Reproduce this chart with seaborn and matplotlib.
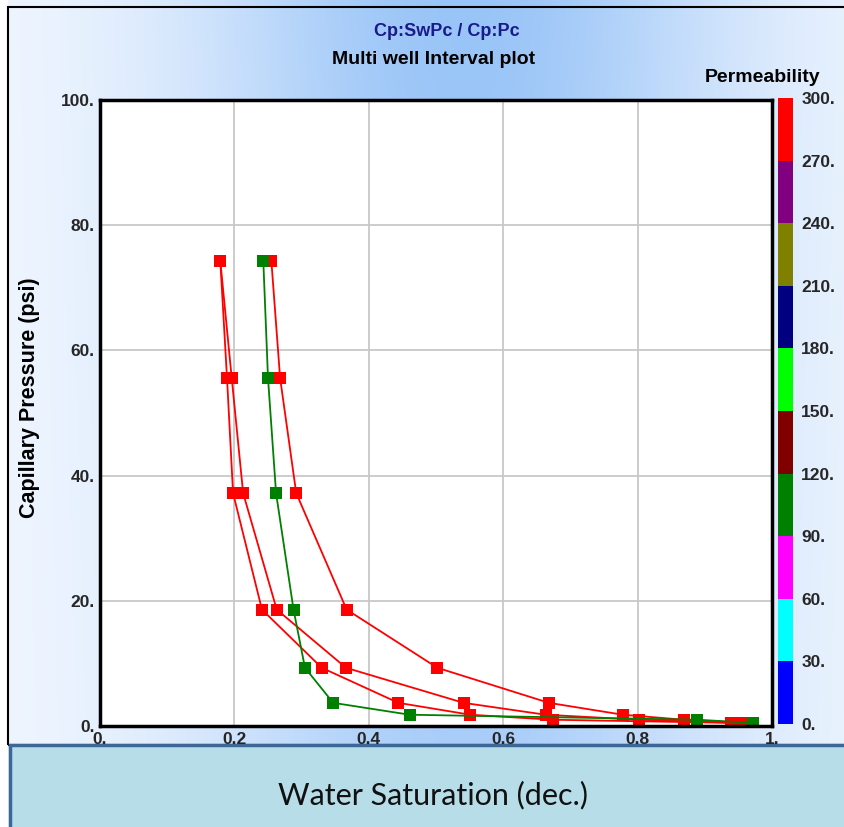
import numpy as np
import pandas as pd
import matplotlib
matplotlib.use("Agg")
import matplotlib.pyplot as plt
from matplotlib.colors import ListedColormap, BoundaryNorm
from matplotlib.patches import Rectangle
import seaborn as sns

# ---------------- data ----------------
pc_levels = [74.3, 55.6, 37.2, 18.6, 9.3, 3.7, 1.8, 1.0, 0.5]
sw_curve_a = [0.179, 0.189, 0.198, 0.241, 0.330, 0.444, 0.551, 0.674, 0.939]
sw_curve_b = [0.179, 0.196, 0.213, 0.263, 0.366, 0.541, 0.663, 0.802, 0.950]
sw_curve_c = [0.255, 0.268, 0.292, 0.367, 0.502, 0.668, 0.778, 0.869, 0.960]
sw_curve_g = [0.243, 0.250, 0.262, 0.288, 0.305, 0.347, 0.461, 0.889, 0.972]
curve_names = ["A", "B", "C", "G"]
curve_perm = [290, 285, 295, 100]

cbar_bounds = [0, 30, 60, 90, 120, 150, 180, 210, 240, 270, 300]
cbar_colors = ["#0000ff", "#00ffff", "#ff00ff", "#008000", "#800000",
               "#00ff00", "#000080", "#808000", "#800080", "#ff0000"]
x_ticks = [0, 0.2, 0.4, 0.6, 0.8, 1.0]
x_ticklabels = ["0.", "0.2", "0.4", "0.6", "0.8", "1."]
y_ticks = [0, 20, 40, 60, 80, 100]
y_ticklabels = ["0.", "20.", "40.", "60.", "80.", "100."]

rows = []
for name, sw, k in zip(curve_names, [sw_curve_a, sw_curve_b, sw_curve_c, sw_curve_g], curve_perm):
    for s, p in zip(sw, pc_levels):
        rows.append({"curve": name, "Sw": s, "Pc": p, "perm": k})
df = pd.DataFrame(rows)

cmap = ListedColormap(cbar_colors)
norm = BoundaryNorm(cbar_bounds, cmap.N)

sns.set_style("white")
plt.rcParams["font.family"] = ["Liberation Sans", "DejaVu Sans"]
bold = dict(fontweight="bold")

W, H = 845, 827
fig = plt.figure(figsize=(W / 100, H / 100), dpi=100)

# background gradient
bg = fig.add_axes([0, 0, 1, 1], zorder=-10)
xx = np.linspace(0, 1, 400)
yy = np.linspace(0, 1, 200)
X, Y = np.meshgrid(xx, yy)
t = np.exp(-((X - 0.55) / 0.32) ** 2) * (0.8 + 0.2 * Y)
white = np.array([0.95, 0.97, 1.0])
blue = np.array([0.60, 0.77, 0.97])
img = white[None, None, :] * (1 - t[..., None]) + blue[None, None, :] * t[..., None]
bg.imshow(img, extent=[0, 1, 0, 1], origin="lower", aspect="auto")
bg.set_xlim(0, 1); bg.set_ylim(0, 1); bg.axis("off")
bg.add_patch(Rectangle((0, 0), 8 / W, 1, facecolor="white", edgecolor="none"))
bg.add_patch(Rectangle((8 / W, 1 - 745 / H), 1, (745 - 7) / H, facecolor="none",
                       edgecolor="black", lw=1.5))
bg.add_patch(Rectangle((10 / W, -0.01), 1, (827 - 745) / H + 0.01, facecolor="#b7dde8",
                       edgecolor="#3d6796", lw=2.5))
fig.text(433 / W, 1 - 795 / H, "Water Saturation (dec.)", ha="center", va="center",
         fontsize=22, family=["Lato", "DejaVu Sans"], color="#111111")

# main axes
ax = fig.add_axes([100 / W, 1 - 726 / H, (772 - 100) / W, (726 - 100) / H])
ax.set_facecolor("white")
for (name, k) in zip(curve_names, curve_perm):
    sub = df[df["curve"] == name]
    sns.lineplot(data=sub, x="Sw", y="Pc", ax=ax, sort=False, color=cmap(norm(k)),
                 marker="s", markersize=8, markeredgewidth=0, lw=1.3, legend=False)
ax.set_xlim(0, 1)
ax.set_ylim(0, 100)
ax.set_xticks(x_ticks)
ax.set_xticklabels(x_ticklabels, **bold)
ax.set_yticks(y_ticks)
ax.set_yticklabels(y_ticklabels, **bold)
ax.tick_params(length=0, labelsize=12.5, pad=4)
ax.grid(True, color="#c8c8c8", lw=1.3)
ax.set_axisbelow(True)
for sp in ax.spines.values():
    sp.set_color("black")
    sp.set_linewidth(2.5)
ax.set_xlabel("")
ax.set_ylabel("")
fig.text(30 / W, 1 - 398 / H, "Capillary Pressure (psi)", rotation=90, ha="center",
         va="center", fontsize=15.5, color="black", **bold)

# colorbar
cax = fig.add_axes([778 / W, 1 - 724 / H, 15 / W, (724 - 98) / H])
sm = matplotlib.cm.ScalarMappable(cmap=cmap, norm=norm)
cb = fig.colorbar(sm, cax=cax, ticks=cbar_bounds)
cb.ax.set_yticklabels([f"{b}." for b in cbar_bounds], fontsize=12.5, **bold)
cb.ax.tick_params(length=0, pad=6)
cb.outline.set_visible(False)

# titles
fig.text(447 / W, 1 - 31 / H, "Cp:SwPc / Cp:Pc", ha="center", va="center",
         fontsize=13, color="#1a1a8c", **bold)
fig.text(434 / W, 1 - 59 / H, "Multi well Interval plot", ha="center", va="center",
         fontsize=14, color="black", **bold)
fig.text(763 / W, 1 - 78 / H, "Permeability", ha="center", va="center",
         fontsize=14, color="black", **bold)

fig.savefig("out.png", dpi=100)
